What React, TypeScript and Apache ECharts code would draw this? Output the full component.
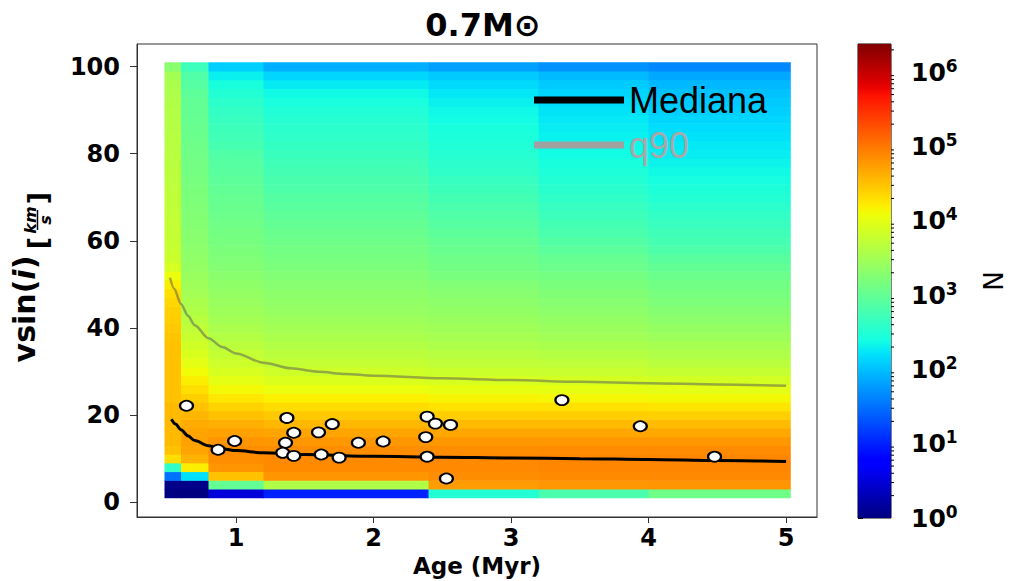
import React, { useEffect, useRef } from "react";
import * as echarts from "echarts";

// ---- axes ----
const X_TICKS = [1, 2, 3, 4, 5];
const Y_TICKS = [0, 20, 40, 60, 80, 100];
const CBAR_EXPONENTS = [0, 1, 2, 3, 4, 5, 6];
const LOG_N_MAX = 6.38;

// ---- binned density: log10(N) per cell ----
// column edges (Myr); rows are 2 km/s high, starting at 1 km/s
const AGE_EDGES = [0.48, 0.6, 0.8, 1.2, 2.4, 3.2, 4.0, 5.03];
const VSIN_ROW_START = 1;
const VSIN_ROW_STEP = 2;

const LOGN_AGE_048 = [
  0.0, 0.05, 1.5, 2.6, 4.3, 4.5, 4.55, 4.55, 4.55, 4.55,
  4.55, 4.5, 4.5, 4.5, 4.5, 4.5, 4.5, 4.5, 4.48, 4.45,
  4.42, 4.4, 4.35, 4.3, 4.2, 4.05, 3.9, 3.8, 3.78, 3.76,
  3.75, 3.74, 3.73, 3.72, 3.71, 3.7, 3.69, 3.68, 3.67, 3.66,
  3.65, 3.64, 3.63, 3.62, 3.61, 3.6, 3.58, 3.56, 3.5, 3.3,
];
const LOGN_AGE_060 = [
  0.0, 0.05, 2.2, 4.2, 4.6, 4.7, 4.72, 4.7, 4.65, 4.58,
  4.5, 4.4, 4.3, 4.2, 4.1, 4.0, 3.92, 3.85, 3.78, 3.72,
  3.66, 3.6, 3.55, 3.5, 3.46, 3.42, 3.38, 3.35, 3.32, 3.3,
  3.28, 3.26, 3.24, 3.22, 3.2, 3.18, 3.16, 3.14, 3.12, 3.1,
  3.08, 3.06, 3.04, 3.02, 3.0, 2.98, 2.95, 2.9, 2.85, 2.7,
];
const LOGN_AGE_080 = [
  0.5, 3.0, 4.5, 4.8, 4.85, 4.85, 4.8, 4.72, 4.62, 4.5,
  4.38, 4.25, 4.12, 4.0, 3.9, 3.82, 3.75, 3.68, 3.62, 3.56,
  3.5, 3.46, 3.42, 3.38, 3.34, 3.3, 3.26, 3.22, 3.19, 3.16,
  3.13, 3.1, 3.07, 3.04, 3.01, 2.98, 2.95, 2.92, 2.89, 2.86,
  2.78, 2.74, 2.7, 2.66, 2.62, 2.57, 2.5, 2.42, 2.3, 2.1,
];
const LOGN_AGE_120 = [
  1.0, 3.6, 4.8, 4.87, 4.87, 4.85, 4.78, 4.69, 4.57, 4.45,
  4.32, 4.18, 4.05, 3.93, 3.83, 3.75, 3.68, 3.61, 3.55, 3.5,
  3.45, 3.4, 3.36, 3.32, 3.28, 3.24, 3.2, 3.16, 3.12, 3.08,
  3.04, 3.0, 2.96, 2.92, 2.88, 2.84, 2.8, 2.76, 2.72, 2.68,
  2.64, 2.6, 2.56, 2.52, 2.48, 2.43, 2.36, 2.26, 2.14, 1.9,
];
const LOGN_AGE_240 = [
  2.5, 4.75, 4.85, 4.88, 4.88, 4.85, 4.78, 4.68, 4.55, 4.42,
  4.28, 4.15, 4.02, 3.9, 3.8, 3.72, 3.65, 3.58, 3.52, 3.47,
  3.42, 3.37, 3.32, 3.28, 3.24, 3.17, 3.12, 3.08, 3.04, 3.0,
  2.95, 2.9, 2.85, 2.8, 2.75, 2.7, 2.65, 2.6, 2.56, 2.52,
  2.48, 2.45, 2.42, 2.38, 2.35, 2.3, 2.24, 2.16, 2.06, 1.8,
];
const LOGN_AGE_320 = [
  2.8, 4.78, 4.87, 4.9, 4.9, 4.86, 4.78, 4.68, 4.55, 4.42,
  4.28, 4.14, 4.01, 3.89, 3.79, 3.7, 3.62, 3.55, 3.49, 3.43,
  3.38, 3.33, 3.28, 3.23, 3.18, 3.13, 3.07, 3.01, 2.94, 2.87,
  2.81, 2.75, 2.7, 2.65, 2.6, 2.55, 2.5, 2.46, 2.42, 2.38,
  2.35, 2.31, 2.28, 2.25, 2.22, 2.18, 2.13, 2.07, 1.97, 1.72,
];
const LOGN_AGE_400 = [
  3.1, 4.8, 4.88, 4.9, 4.9, 4.86, 4.78, 4.67, 4.54, 4.4,
  4.26, 4.12, 3.99, 3.87, 3.76, 3.67, 3.59, 3.52, 3.45, 3.39,
  3.33, 3.27, 3.21, 3.16, 3.11, 3.06, 2.99, 2.92, 2.84, 2.77,
  2.72, 2.67, 2.62, 2.56, 2.5, 2.46, 2.41, 2.36, 2.32, 2.28,
  2.25, 2.21, 2.18, 2.14, 2.1, 2.06, 2.01, 1.95, 1.85, 1.65,
];
const LOGN_COLUMNS = [
  LOGN_AGE_048, LOGN_AGE_060, LOGN_AGE_080, LOGN_AGE_120,
  LOGN_AGE_240, LOGN_AGE_320, LOGN_AGE_400,
];

// ---- median and 90th percentile curves ----
const MEDIAN_AGE = [0.53, 0.56, 0.6, 0.65, 0.7, 0.8, 0.9, 1.0, 1.2, 1.5, 2.0, 2.5, 3.0, 3.5, 4.0, 4.5, 5.0];
const MEDIAN_VSIN = [19.0, 17.9, 16.6, 15.2, 14.1, 12.9, 12.2, 11.8, 11.3, 10.9, 10.5, 10.3, 10.1, 9.95, 9.75, 9.5, 9.3];
const Q90_AGE = [0.52, 0.55, 0.6, 0.65, 0.7, 0.8, 0.9, 1.0, 1.2, 1.4, 1.6, 1.8, 2.0, 2.5, 3.0, 3.5, 4.0, 4.5, 5.0];
const Q90_VSIN = [51.5, 49.0, 45.5, 42.8, 40.6, 37.6, 35.6, 34.1, 32.0, 30.7, 29.9, 29.4, 29.0, 28.4, 28.0, 27.6, 27.3, 27.0, 26.7];

// ---- observed stars ----
const STAR_AGE = [0.64, 0.87, 0.99, 1.37, 1.42, 1.36, 1.34, 1.42, 1.6, 1.7, 1.62, 1.75, 1.89, 2.07, 2.39, 2.38, 2.39, 2.45, 2.56, 2.53, 3.37, 3.94, 4.48];
const STAR_VSIN = [22.1, 12.0, 14.0, 19.3, 15.9, 13.6, 11.3, 10.6, 16.0, 17.9, 10.9, 10.2, 13.6, 13.9, 19.6, 14.9, 10.4, 18.0, 17.7, 5.4, 23.4, 17.4, 10.4];

// matplotlib "jet" colormap segments
const JET_R = [[0, 0], [0.35, 0], [0.66, 1], [0.89, 1], [1, 0.5]];
const JET_G = [[0, 0], [0.125, 0], [0.375, 1], [0.64, 1], [0.91, 0], [1, 0]];
const JET_B = [[0, 0.5], [0.11, 1], [0.34, 1], [0.65, 0], [1, 0]];

function segment(f: number, pts: number[][]): number {
  for (let i = 1; i < pts.length; i++) {
    if (f <= pts[i][0]) {
      const [x0, y0] = pts[i - 1];
      const [x1, y1] = pts[i];
      return y0 + ((f - x0) / (x1 - x0)) * (y1 - y0);
    }
  }
  return pts[pts.length - 1][1];
}
function jet(f: number): string {
  const c = (v: number) => Math.round(v * 255);
  return `rgb(${c(segment(f, JET_R))},${c(segment(f, JET_G))},${c(segment(f, JET_B))})`;
}
const JET_COLORS = Array.from({ length: 65 }, (_, i) => jet(i / 64));
const JET_STOPS = JET_COLORS.map((color, i) => ({ offset: i / 64, color }));

const FONT = "DejaVu Sans";

export default function App() {
  const ref = useRef<HTMLDivElement>(null);

  useEffect(() => {
    if (!ref.current) return;
    const chart = echarts.init(ref.current, undefined, { renderer: "svg" });

    const cells: number[][] = [];
    LOGN_COLUMNS.forEach((col, c) =>
      col.forEach((v, r) => {
        const y0 = VSIN_ROW_START + r * VSIN_ROW_STEP;
        cells.push([AGE_EDGES[c], AGE_EDGES[c + 1], y0, y0 + VSIN_ROW_STEP, v]);
      })
    );

    // minor colorbar ticks at 2..9 x 10^n
    const minorTicks: number[][] = [];
    CBAR_EXPONENTS.forEach((e) => {
      for (let k = 2; k <= 9; k++) {
        const v = e + Math.log10(k);
        if (v < LOG_N_MAX) minorTicks.push([1, v]);
      }
    });

    const tickFont = { fontFamily: FONT, fontWeight: "bold" as const, fontSize: 24, color: "#000" };

    chart.setOption({
      animation: false,
      backgroundColor: "#fff",
      title: {
        text: "0.7M⊙",
        left: 478,
        top: 4,
        textAlign: "center",
        textStyle: { fontFamily: FONT, fontWeight: "bold", fontSize: 32, color: "#000" },
      },
      grid: [
        {
          left: 137, top: 44, width: 680, height: 473,
          outerBoundsMode: "none", containLabel: false,
          show: true, borderColor: "#333", borderWidth: 1, backgroundColor: "transparent",
        },
        {
          left: 858, top: 44, width: 33, height: 474,
          outerBoundsMode: "none", containLabel: false,
          show: true, borderColor: "#000", borderWidth: 1, backgroundColor: "transparent",
        },
      ],
      xAxis: [
        {
          type: "value",
          gridIndex: 0,
          min: 0.28,
          max: 5.225,
          splitLine: { show: false },
          axisLine: { show: true, onZero: false, lineStyle: { color: "#333" } },
          axisTick: { show: true, length: 6, customValues: X_TICKS, lineStyle: { color: "#333" } },
          axisLabel: { ...tickFont, margin: 9, customValues: X_TICKS },
          name: "Age (Myr)",
          nameLocation: "middle",
          nameMoveOverlap: false,
          nameGap: 37,
          nameTextStyle: { fontFamily: FONT, fontWeight: "bold", fontSize: 23, lineHeight: 24, color: "#000" },
        },
        { type: "value", gridIndex: 1, min: 0, max: 1, show: false },
      ],
      yAxis: [
        {
          type: "value",
          gridIndex: 0,
          min: -3.45,
          max: 105.2,
          splitLine: { show: false },
          axisLine: { show: true, onZero: false, lineStyle: { color: "#333" } },
          axisTick: { show: true, length: 7, customValues: Y_TICKS, lineStyle: { color: "#333" } },
          axisLabel: { ...tickFont, margin: 17, customValues: Y_TICKS },
        },
        {
          type: "value",
          gridIndex: 1,
          position: "right",
          min: 0,
          max: LOG_N_MAX,
          splitLine: { show: false },
          axisLine: { show: false },
          axisTick: { show: true, length: 5, customValues: CBAR_EXPONENTS, lineStyle: { color: "#000" } },
          axisLabel: {
            margin: 20,
            customValues: CBAR_EXPONENTS,
            formatter: (v: number) => `{b|10}{s|${Math.round(v)}}`,
            rich: {
              b: { fontFamily: FONT, fontWeight: "bold", fontSize: 25, lineHeight: 30, color: "#000" },
              s: { fontFamily: FONT, fontWeight: "bold", fontSize: 17, lineHeight: 16, verticalAlign: "top", color: "#000" },
            },
          },
          name: "N",
          nameLocation: "middle",
          nameRotate: 90,
          nameGap: 90,
          nameTextStyle: { fontFamily: FONT, fontSize: 26, color: "#000" },
        },
      ],
      visualMap: {
        type: "continuous",
        show: false,
        seriesIndex: 0,
        dimension: 4,
        min: 0,
        max: LOG_N_MAX,
        inRange: { color: JET_COLORS },
      },
      legend: {
        left: 529,
        top: 77,
        orient: "vertical",
        selectedMode: false,
        icon: "rect",
        itemWidth: 90,
        itemHeight: 7,
        itemGap: 9,
        textStyle: { fontFamily: "Liberation Sans", fontSize: 36, lineHeight: 34 },
        data: [
          { name: "Mediana", textStyle: { color: "#000" }, itemStyle: { color: "#000" } },
          { name: "q90", textStyle: { color: "#a8a8a8" }, itemStyle: { color: "#a0a0a0", opacity: 1 } },
        ],
      },
      series: [
        {
          type: "custom",
          name: "density",
          xAxisIndex: 0,
          yAxisIndex: 0,
          encode: { x: [0, 1], y: [2, 3] },
          data: cells,
          z: 1,
          renderItem: (_params: any, api: any) => {
            const a = api.coord([api.value(0), api.value(3)]);
            const b = api.coord([api.value(1), api.value(2)]);
            return {
              type: "rect",
              shape: { x: a[0], y: a[1], width: b[0] - a[0] + 0.6, height: b[1] - a[1] + 0.6 },
              style: { fill: api.visual("color") },
            };
          },
        },
        {
          type: "line",
          name: "q90",
          data: Q90_AGE.map((x, i) => [x, Q90_VSIN[i]]),
          showSymbol: false,
          smooth: 0.3,
          smoothMonotone: "x",
          color: "#a0a0a0",
          lineStyle: { color: "#555", width: 2.5, opacity: 0.5 },
          z: 3,
        },
        {
          type: "line",
          name: "Mediana",
          data: MEDIAN_AGE.map((x, i) => [x, MEDIAN_VSIN[i]]),
          showSymbol: false,
          smooth: 0.3,
          smoothMonotone: "x",
          color: "#000",
          lineStyle: { color: "#000", width: 3 },
          z: 4,
        },
        {
          type: "scatter",
          name: "stars",
          data: STAR_AGE.map((x, i) => [x, STAR_VSIN[i]]),
          symbol: "circle",
          symbolSize: [13, 10],
          itemStyle: { color: "#fff", borderColor: "#000", borderWidth: 2, opacity: 1 },
          z: 5,
        },
        {
          type: "custom",
          name: "colorbar",
          xAxisIndex: 1,
          yAxisIndex: 1,
          data: [[0, 0, 1, LOG_N_MAX]],
          z: 1,
          renderItem: (_params: any, api: any) => {
            const a = api.coord([api.value(0), api.value(3)]);
            const b = api.coord([api.value(2), api.value(1)]);
            return {
              type: "rect",
              shape: { x: a[0], y: a[1], width: b[0] - a[0], height: b[1] - a[1] },
              style: {
                fill: new echarts.graphic.LinearGradient(0, 1, 0, 0, JET_STOPS),
              },
            };
          },
        },
        {
          type: "custom",
          name: "colorbar minor ticks",
          xAxisIndex: 1,
          yAxisIndex: 1,
          data: minorTicks,
          z: 2,
          renderItem: (_params: any, api: any) => {
            const p = api.coord([api.value(0), api.value(1)]);
            return {
              type: "line",
              shape: { x1: p[0], y1: p[1], x2: p[0] + 3, y2: p[1] },
              style: { stroke: "#000", lineWidth: 1 },
            };
          },
        },
      ],
      graphic: [
        {
          type: "group",
          x: 24,
          y: 309,
          rotation: Math.PI / 2,
          children: [
            {
              type: "text",
              x: 0,
              y: 0,
              style: {
                text: "{a|vsin(}{b|i}{a|)}",
                align: "center",
                verticalAlign: "middle",
                fill: "#000",
                rich: {
                  a: { fontFamily: FONT, fontWeight: "bold", fontSize: 30 },
                  b: { fontFamily: FONT, fontWeight: "bold", fontStyle: "italic", fontSize: 30 },
                },
              },
            },
            {
              type: "text",
              x: 66,
              y: 13,
              style: { text: "[", font: `bold 27px "${FONT}"`, align: "center", verticalAlign: "middle", fill: "#000" },
            },
            {
              type: "text",
              x: 89,
              y: 6,
              style: { text: "km", font: `italic bold 16px "${FONT}"`, align: "center", verticalAlign: "middle", fill: "#000" },
            },
            {
              type: "line",
              shape: { x1: 79, y1: 13.5, x2: 99, y2: 13.5 },
              style: { stroke: "#000", lineWidth: 1.5 },
            },
            {
              type: "text",
              x: 89,
              y: 21,
              style: { text: "s", font: `italic bold 16px "${FONT}"`, align: "center", verticalAlign: "middle", fill: "#000" },
            },
            {
              type: "text",
              x: 111,
              y: 13,
              style: { text: "]", font: `bold 27px "${FONT}"`, align: "center", verticalAlign: "middle", fill: "#000" },
            },
          ],
        },
      ],
    });

    return () => chart.dispose();
  }, []);

  return (
    <div
      ref={ref}
      style={{ position: "fixed", left: 0, top: 0, width: 1014, height: 581, background: "#fff" }}
    />
  );
}
